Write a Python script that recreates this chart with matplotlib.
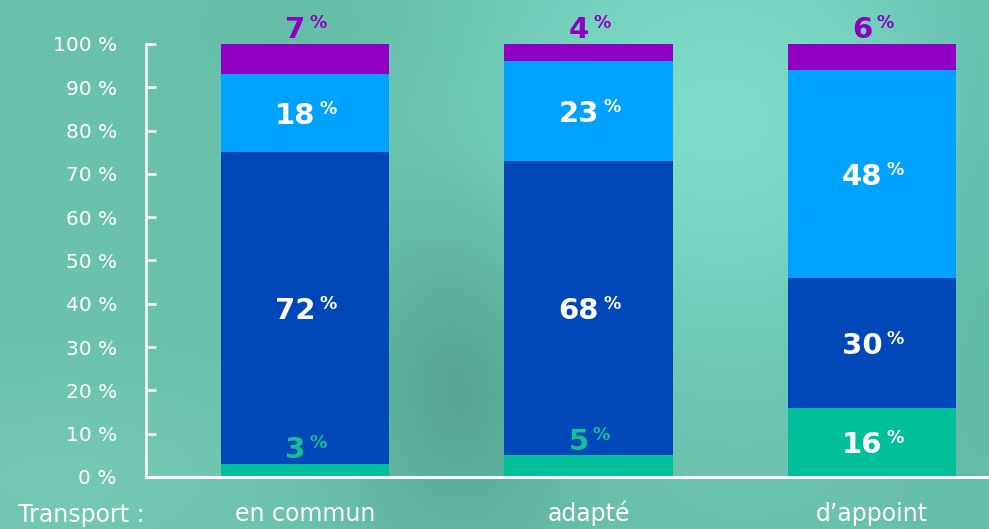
import numpy as np
import matplotlib
matplotlib.use("Agg")
import matplotlib.pyplot as plt
from matplotlib.colors import to_rgb

categories = ["en commun", "adapté", "d\u2019appoint"]
green_vals = [3, 5, 16]
dark_vals = [72, 68, 30]
light_vals = [18, 23, 48]
purple_vals = [7, 4, 6]
series = [green_vals, dark_vals, light_vals, purple_vals]
colors = ["#00BF9B", "#0048BA", "#00A2FF", "#9000C2"]
outside_colors = ["#14C096", "#0048BA", "#00A2FF", "#8E00C0"]
yticks = list(range(0, 101, 10))

W, H = 989, 529
fig = plt.figure(figsize=(W / 100, H / 100), dpi=100)

# teal photo-like background
bg = fig.add_axes([0, 0, 1, 1])
yy, xx = np.mgrid[0:H, 0:W]
base = np.array(to_rgb("#6AC2AD"))
img = np.ones((H, W, 3)) * base
def blob(cx, cy, sx, sy, col, amt):
    g = np.exp(-(((xx - cx) / sx) ** 2 + ((yy - cy) / sy) ** 2))[..., None] * amt
    return g * (np.array(to_rgb(col)) - base)
img += blob(720, 120, 260, 220, "#7CDCC8", 1.0)
img += blob(460, 380, 110, 170, "#4E9E8B", 0.8)
img += blob(980, 250, 90, 300, "#58B29E", 0.7)
img += blob(60, 480, 200, 90, "#7BCDB8", 0.6)
img += blob(330, 30, 150, 80, "#5FB8A2", 0.5)
bg.imshow(np.clip(img, 0, 1), aspect="auto", extent=[0, W, H, 0])
bg.axis("off")

ax = fig.add_axes([146 / W, 52 / H, 843 / W, 433 / H])
ax.patch.set_alpha(0)
x = np.arange(len(categories))
bottom = np.zeros(len(categories))
for vals, col, ocol in zip(series, colors, outside_colors):
    vals = np.array(vals, dtype=float)
    ax.bar(x, vals, bottom=bottom, width=0.593, color=col, linewidth=0)
    for xi, b, v in zip(x, bottom, vals):
        if v < 10:
            # small segment: label sits just above it
            y, dy, c = b + v, 4, ocol
        else:
            y, dy, c = b + v / 2, -8, "white"
        num = ax.annotate(f"{int(v)}", (xi, y), xytext=(-7, dy), textcoords="offset points",
                          ha="center", va="baseline", fontsize=21, fontweight="bold", color=c)
        ax.annotate("%", (1, 1), xycoords=num, xytext=(3, 1.5), textcoords="offset points",
                    ha="left", va="top", fontsize=12.5, fontweight="bold", color=c)
    bottom += vals

ax.set_xlim(-0.561, 2.413)
ax.set_ylim(0, 100)
ax.set_yticks(yticks, [f"{t} %" for t in yticks])
ax.set_xticks(x, categories)
for lab in ax.get_xticklabels():
    lab.set_verticalalignment("baseline")
for s in ["top", "right"]:
    ax.spines[s].set_visible(False)
ax.spines["left"].set_color("white")
ax.spines["left"].set_linewidth(1.8)
ax.spines["bottom"].set_color("white")
ax.spines["bottom"].set_linewidth(2.2)
ax.tick_params(axis="y", direction="in", length=7, width=1.8, color="white",
               labelcolor="white", labelsize=14.5, pad=21)
ax.tick_params(axis="x", length=0, labelcolor="white", labelsize=17, pad=32)

fig.text(18 / W, 7 / H, "Transport :", color="white", fontsize=17, ha="left", va="baseline")

fig.savefig("out.png", dpi=100)
